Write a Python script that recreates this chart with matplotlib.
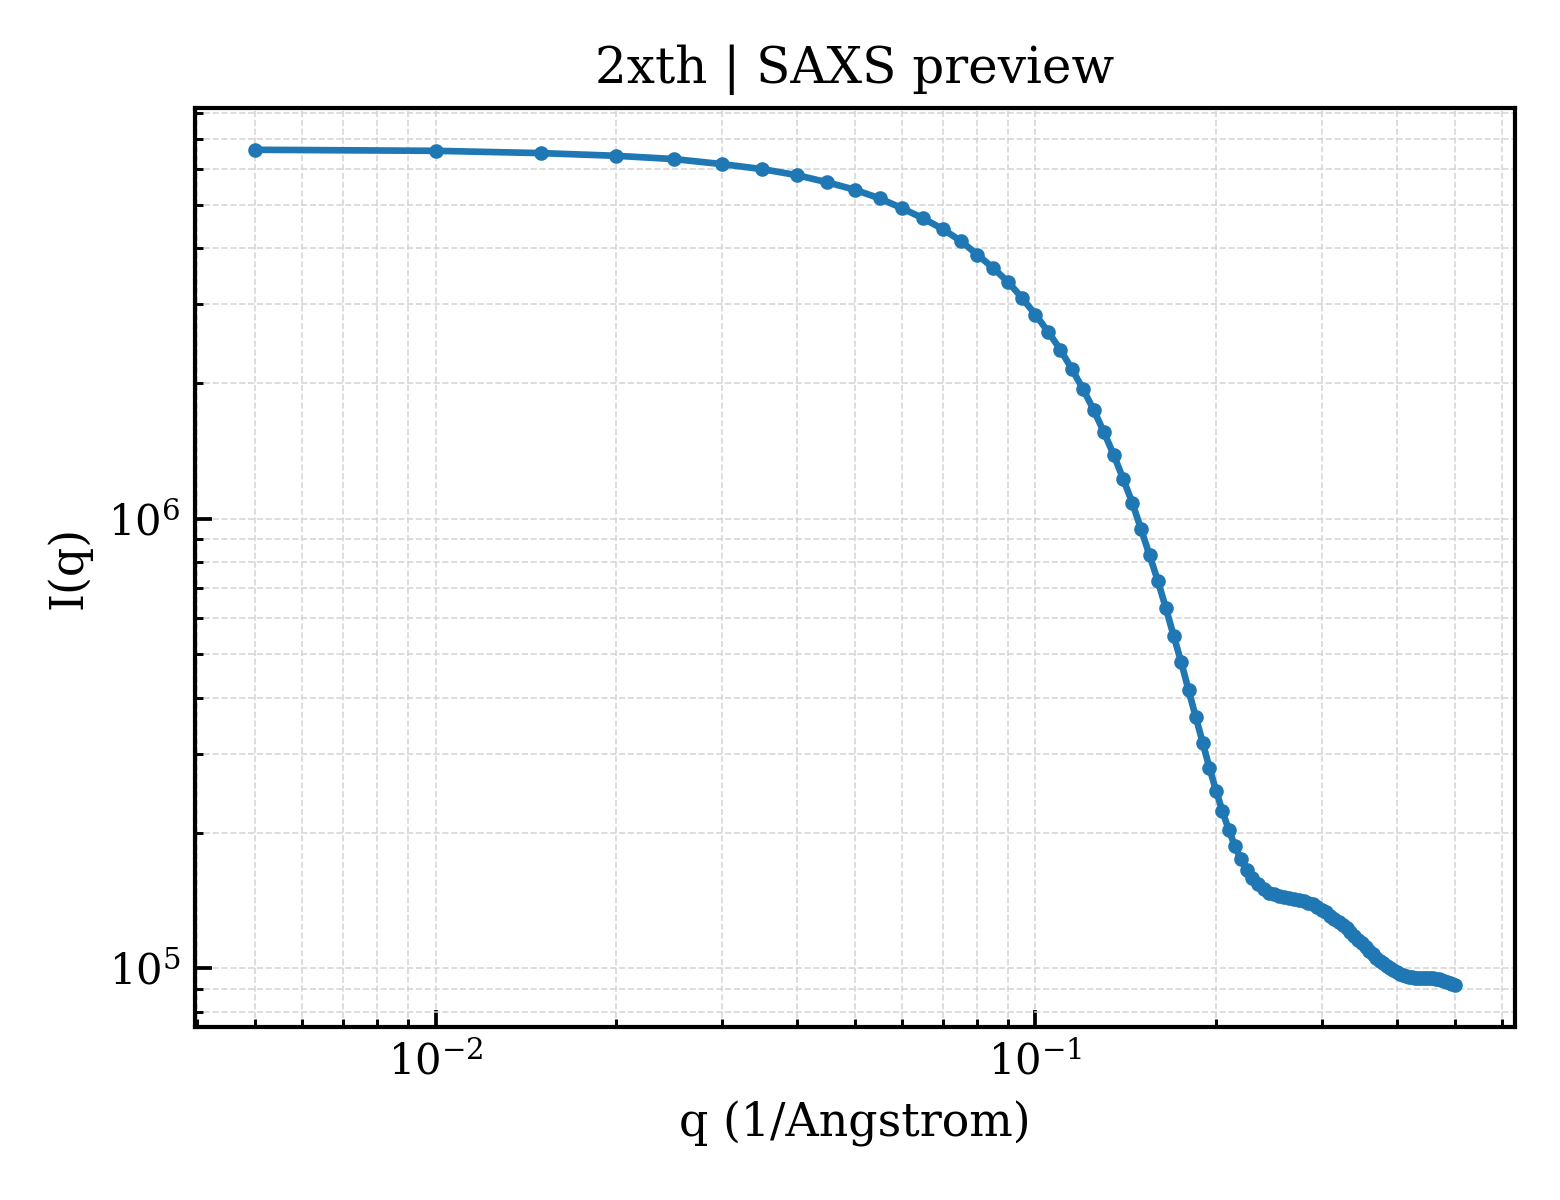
import matplotlib
matplotlib.use("Agg")
import matplotlib.pyplot as plt
import numpy as np

plt.rcParams['font.family'] = ['DejaVu Serif']

q = [0.005, 0.010, 0.015, 0.020, 0.025, 0.030, 0.035, 0.040, 0.045, 0.050,
     0.055, 0.060, 0.065, 0.070, 0.075, 0.080, 0.085, 0.090, 0.095, 0.100,
     0.105, 0.110, 0.115, 0.120, 0.125, 0.130, 0.135, 0.140, 0.145, 0.150,
     0.155, 0.160, 0.165, 0.170, 0.175, 0.180, 0.185, 0.190, 0.195, 0.200,
     0.205, 0.210, 0.215, 0.220, 0.225, 0.230, 0.235, 0.240, 0.245, 0.250,
     0.255, 0.260, 0.265, 0.270, 0.275, 0.280, 0.285, 0.290, 0.295, 0.300,
     0.305, 0.310, 0.315, 0.320, 0.325, 0.330, 0.335, 0.340, 0.345, 0.350,
     0.355, 0.360, 0.365, 0.370, 0.375, 0.380, 0.385, 0.390, 0.395, 0.400,
     0.405, 0.410, 0.415, 0.420, 0.425, 0.430, 0.435, 0.440, 0.445, 0.450,
     0.455, 0.460, 0.465, 0.470, 0.475, 0.480, 0.485, 0.490, 0.495, 0.500]

intensity = [6.618e6, 6.583e6, 6.506e6, 6.417e6, 6.310e6, 6.150e6, 5.995e6, 5.813e6, 5.601e6, 5.393e6,
             5.160e6, 4.901e6, 4.657e6, 4.410e6, 4.153e6, 3.867e6, 3.613e6, 3.363e6, 3.098e6, 2.844e6,
             2.605e6, 2.378e6, 2.152e6, 1.944e6, 1.748e6, 1.559e6, 1.388e6, 1.227e6, 1.085e6, 9.472e5,
             8.283e5, 7.263e5, 6.318e5, 5.479e5, 4.793e5, 4.150e5, 3.623e5, 3.177e5, 2.790e5, 2.484e5,
             2.233e5, 2.030e5, 1.871e5, 1.745e5, 1.651e5, 1.589e5, 1.537e5, 1.498e5, 1.471e5, 1.460e5,
             1.450e5, 1.441e5, 1.434e5, 1.427e5, 1.419e5, 1.410e5, 1.399e5, 1.387e5, 1.370e5, 1.350e5,
             1.330e5, 1.307e5, 1.289e5, 1.270e5, 1.249e5, 1.228e5, 1.205e5, 1.181e5, 1.157e5, 1.135e5,
             1.114e5, 1.092e5, 1.073e5, 1.056e5, 1.039e5, 1.026e5, 1.012e5, 1.000e5, 9.883e4, 9.788e4,
             9.708e4, 9.648e4, 9.599e4, 9.565e4, 9.545e4, 9.530e4, 9.521e4, 9.515e4, 9.510e4, 9.506e4,
             9.501e4, 9.491e4, 9.477e4, 9.462e4, 9.428e4, 9.380e4, 9.333e4, 9.271e4, 9.214e4, 9.154e4]

title = "2xth | SAXS preview"
xlabel = "q (1/Angstrom)"
ylabel = "I(q)"

fig = plt.figure(figsize=(5.2, 4.0), dpi=300)
ax = fig.add_axes([0.125, 0.144, 0.846, 0.766])

ax.plot(q, intensity, color='#1f77b4', linewidth=1.6, marker='o', markersize=2.5)
ax.set_xscale('log')
ax.set_yscale('log')

ax.grid(True, which='both', linestyle='--', linewidth=0.4, color='#d3d3d3', alpha=0.9)
ax.tick_params(which='both', direction='in', labelsize=10)
ax.tick_params(which='major', length=4, width=0.9)
ax.tick_params(which='minor', length=2, width=0.7)
for s in ax.spines.values():
    s.set_linewidth(1.0)

ax.set_title(title, fontsize=12)
ax.set_xlabel(xlabel, fontsize=11)
ax.set_ylabel(ylabel, fontsize=11)

fig.savefig("out.png", dpi=300)
